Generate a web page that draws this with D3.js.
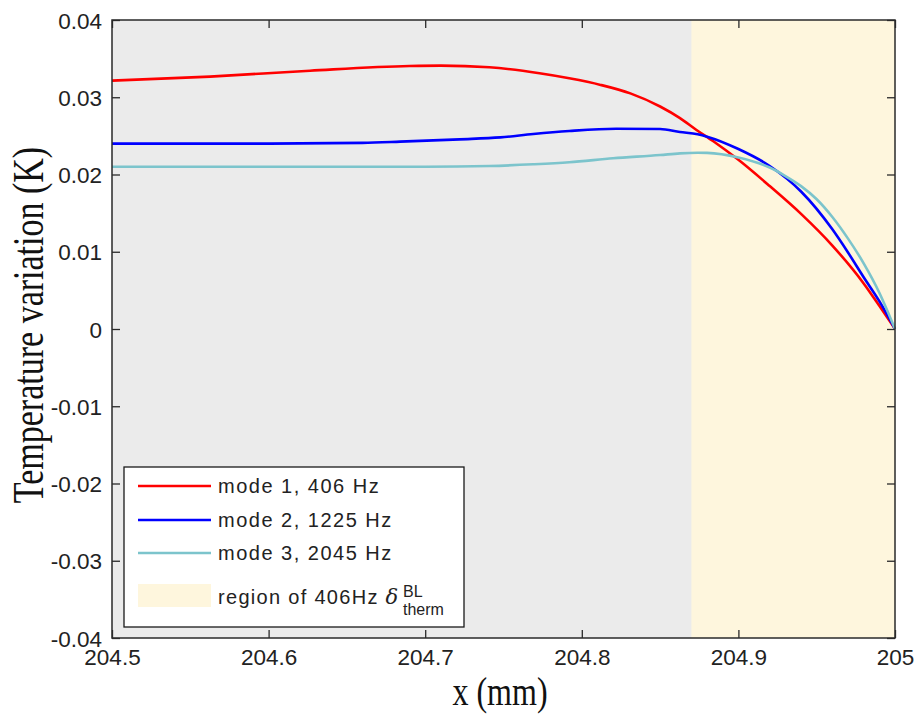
<!DOCTYPE html>
<html>
<head>
<meta charset="utf-8">
<script src="https://cdn.jsdelivr.net/npm/d3@7"></script>
<style>
  html, body { margin: 0; padding: 0; background: #ffffff; }
  svg { display: block; }
  .tick text { font-family: "Liberation Sans", Arial, sans-serif; fill: #222; }
</style>
</head>
<body>
<svg id="chart" width="917" height="715"></svg>
<script>
// Temperature variation near the wall for the first three acoustic modes
const xTicks = [204.5, 204.6, 204.7, 204.8, 204.9, 205];
const yTicks = [-0.04, -0.03, -0.02, -0.01, 0, 0.01, 0.02, 0.03, 0.04];

const mode1X = [204.5, 204.5626, 204.6264, 204.690, 204.71, 204.741, 204.773, 204.792, 204.812, 204.831, 204.850, 204.8627, 204.873, 204.884, 204.90, 204.92, 204.94, 204.96, 204.98, 204.99, 205];
const mode1T = [0.03215, 0.03267, 0.03344, 0.03405, 0.0341, 0.03388, 0.0331, 0.03245, 0.0316, 0.0305, 0.0288, 0.0273, 0.0258, 0.0243, 0.0219, 0.0185, 0.0149, 0.0108, 0.0059, 0.0030, 0];

const mode2X = [204.5, 204.6, 204.66, 204.684, 204.722, 204.748, 204.769, 204.792, 204.822, 204.850, 204.8627, 204.874, 204.88, 204.90, 204.92, 204.94, 204.96, 204.97, 204.98, 204.99, 205];
const mode2T = [0.0240, 0.0240, 0.0241, 0.02425, 0.02455, 0.0248, 0.02524, 0.02563, 0.02593, 0.02589, 0.02550, 0.0252, 0.0249, 0.0233, 0.0211, 0.0178, 0.0129, 0.0099, 0.0067, 0.0036, 0];

const mode3X = [204.5, 204.6, 204.7, 204.741, 204.769, 204.792, 204.820, 204.850, 204.8627, 204.874, 204.88, 204.90, 204.92, 204.93, 204.94, 204.95, 204.96, 204.97, 204.98, 204.99, 205];
const mode3T = [0.0210, 0.0210, 0.0210, 0.0211, 0.02132, 0.02158, 0.0221, 0.02252, 0.02274, 0.02282, 0.0228, 0.0222, 0.0209, 0.0198, 0.0185, 0.0168, 0.0145, 0.0117, 0.0085, 0.0047, 0];

// thermal boundary layer region for the 406 Hz mode
const regionStart = 204.87;
const regionEnd = 205;

const seriesNames = ["mode 1, 406 Hz", "mode 2, 1225 Hz", "mode 3, 2045 Hz"];
const seriesColors = ["#ff0000", "#0000ff", "#7cc4cc"];

const series = [
  { name: seriesNames[0], color: seriesColors[0], x: mode1X, y: mode1T },
  { name: seriesNames[1], color: seriesColors[1], x: mode2X, y: mode2T },
  { name: seriesNames[2], color: seriesColors[2], x: mode3X, y: mode3T }
];

const svg = d3.select("#chart");
const plot = { left: 112, right: 895, top: 20, bottom: 638 };

const x = d3.scaleLinear().domain([204.5, 205]).range([plot.left, plot.right]);
const y = d3.scaleLinear().domain([-0.04, 0.04]).range([plot.bottom, plot.top]);

// axes background and shaded region
svg.append("rect")
  .attr("x", plot.left).attr("y", plot.top)
  .attr("width", plot.right - plot.left).attr("height", plot.bottom - plot.top)
  .attr("fill", "#ebebeb");

svg.append("rect")
  .attr("x", x(regionStart)).attr("y", plot.top)
  .attr("width", x(regionEnd) - x(regionStart)).attr("height", plot.bottom - plot.top)
  .attr("fill", "#fef6dd");

// curves
const line = d3.line().curve(d3.curveMonotoneX);
series.forEach(s => {
  const pts = s.x.map((xv, i) => [x(xv), y(s.y[i])]);
  svg.append("path")
    .attr("d", line(pts))
    .attr("fill", "none")
    .attr("stroke", s.color)
    .attr("stroke-width", 2.6)
    .attr("stroke-linejoin", "round");
});

// axes with inward ticks on all four sides
const tickLen = 8;
const fmtX = d => String(d);
const fmtY = d => d === 0 ? "0" : d.toFixed(2);

const gx = svg.append("g").attr("transform", `translate(0,${plot.bottom})`)
  .call(d3.axisBottom(x).tickValues(xTicks).tickFormat(fmtX).tickSizeInner(-tickLen).tickSizeOuter(0));
const gxTop = svg.append("g").attr("transform", `translate(0,${plot.top})`)
  .call(d3.axisTop(x).tickValues(xTicks).tickFormat("").tickSizeInner(-tickLen).tickSizeOuter(0));
const gy = svg.append("g").attr("transform", `translate(${plot.left},0)`)
  .call(d3.axisLeft(y).tickValues(yTicks).tickFormat(fmtY).tickSizeInner(-tickLen).tickSizeOuter(0));
const gyRight = svg.append("g").attr("transform", `translate(${plot.right},0)`)
  .call(d3.axisRight(y).tickValues(yTicks).tickFormat("").tickSizeInner(-tickLen).tickSizeOuter(0));

[gx, gxTop, gy, gyRight].forEach(g => {
  g.select(".domain").remove();
  g.selectAll(".tick line").attr("stroke", "#2a2a2a").attr("stroke-width", 1.3);
});
gx.selectAll(".tick text").attr("font-size", 22.5).attr("y", 27).attr("dy", null);
gy.selectAll(".tick text").attr("font-size", 22.5).attr("x", -10).attr("dy", "0.36em");

// frame
svg.append("rect")
  .attr("x", plot.left).attr("y", plot.top)
  .attr("width", plot.right - plot.left).attr("height", plot.bottom - plot.top)
  .attr("fill", "none").attr("stroke", "#2a2a2a").attr("stroke-width", 1.5);

// axis titles (tall serif lettering)
const serif = "'Liberation Serif', 'Times New Roman', serif";
svg.append("g").attr("transform", "translate(500,705)")
  .append("text")
  .attr("transform", "scale(1,1.28)")
  .attr("text-anchor", "middle")
  .attr("font-family", serif)
  .attr("font-size", 32)
  .attr("fill", "#111")
  .text("x (mm)");

svg.append("g").attr("transform", "translate(43,325) rotate(-90)")
  .append("text")
  .attr("transform", "scale(1,1.28)")
  .attr("text-anchor", "middle")
  .attr("font-family", serif)
  .attr("font-size", 34)
  .attr("fill", "#111")
  .text("Temperature variation (K)");

// legend
const legend = svg.append("g");
legend.append("rect")
  .attr("x", 124).attr("y", 467).attr("width", 340).attr("height", 160)
  .attr("fill", "#ffffff").attr("stroke", "#1a1a1a").attr("stroke-width", 1.3);

const rowY = [486, 520, 553];
const legendFont = "'Liberation Sans', Arial, sans-serif";
series.forEach((s, i) => {
  legend.append("line")
    .attr("x1", 138).attr("x2", 211).attr("y1", rowY[i]).attr("y2", rowY[i])
    .attr("stroke", s.color).attr("stroke-width", 2.6);
  legend.append("text")
    .attr("x", 218).attr("y", rowY[i] + 7)
    .attr("font-family", legendFont).attr("font-size", 20)
    .attr("letter-spacing", 1.5)
    .attr("fill", "#222")
    .text(s.name);
});

legend.append("rect")
  .attr("x", 138).attr("y", 584).attr("width", 73).attr("height", 23)
  .attr("fill", "#fef6dd");

const regionLabel = legend.append("text")
  .attr("x", 218).attr("y", 604)
  .attr("font-family", legendFont).attr("font-size", 20)
  .attr("fill", "#222");
regionLabel.append("tspan").attr("letter-spacing", 1.3).text("region of 406Hz ");
regionLabel.append("tspan")
  .attr("font-family", "'DejaVu Serif', 'Liberation Serif', serif")
  .attr("font-style", "italic")
  .attr("font-size", 21)
  .text("δ");
legend.append("text")
  .attr("x", 403).attr("y", 597)
  .attr("font-family", legendFont).attr("font-size", 16)
  .attr("fill", "#222")
  .text("BL");
legend.append("text")
  .attr("x", 403).attr("y", 615)
  .attr("font-family", legendFont).attr("font-size", 16)
  .attr("fill", "#222")
  .text("therm");
</script>
</body>
</html>
